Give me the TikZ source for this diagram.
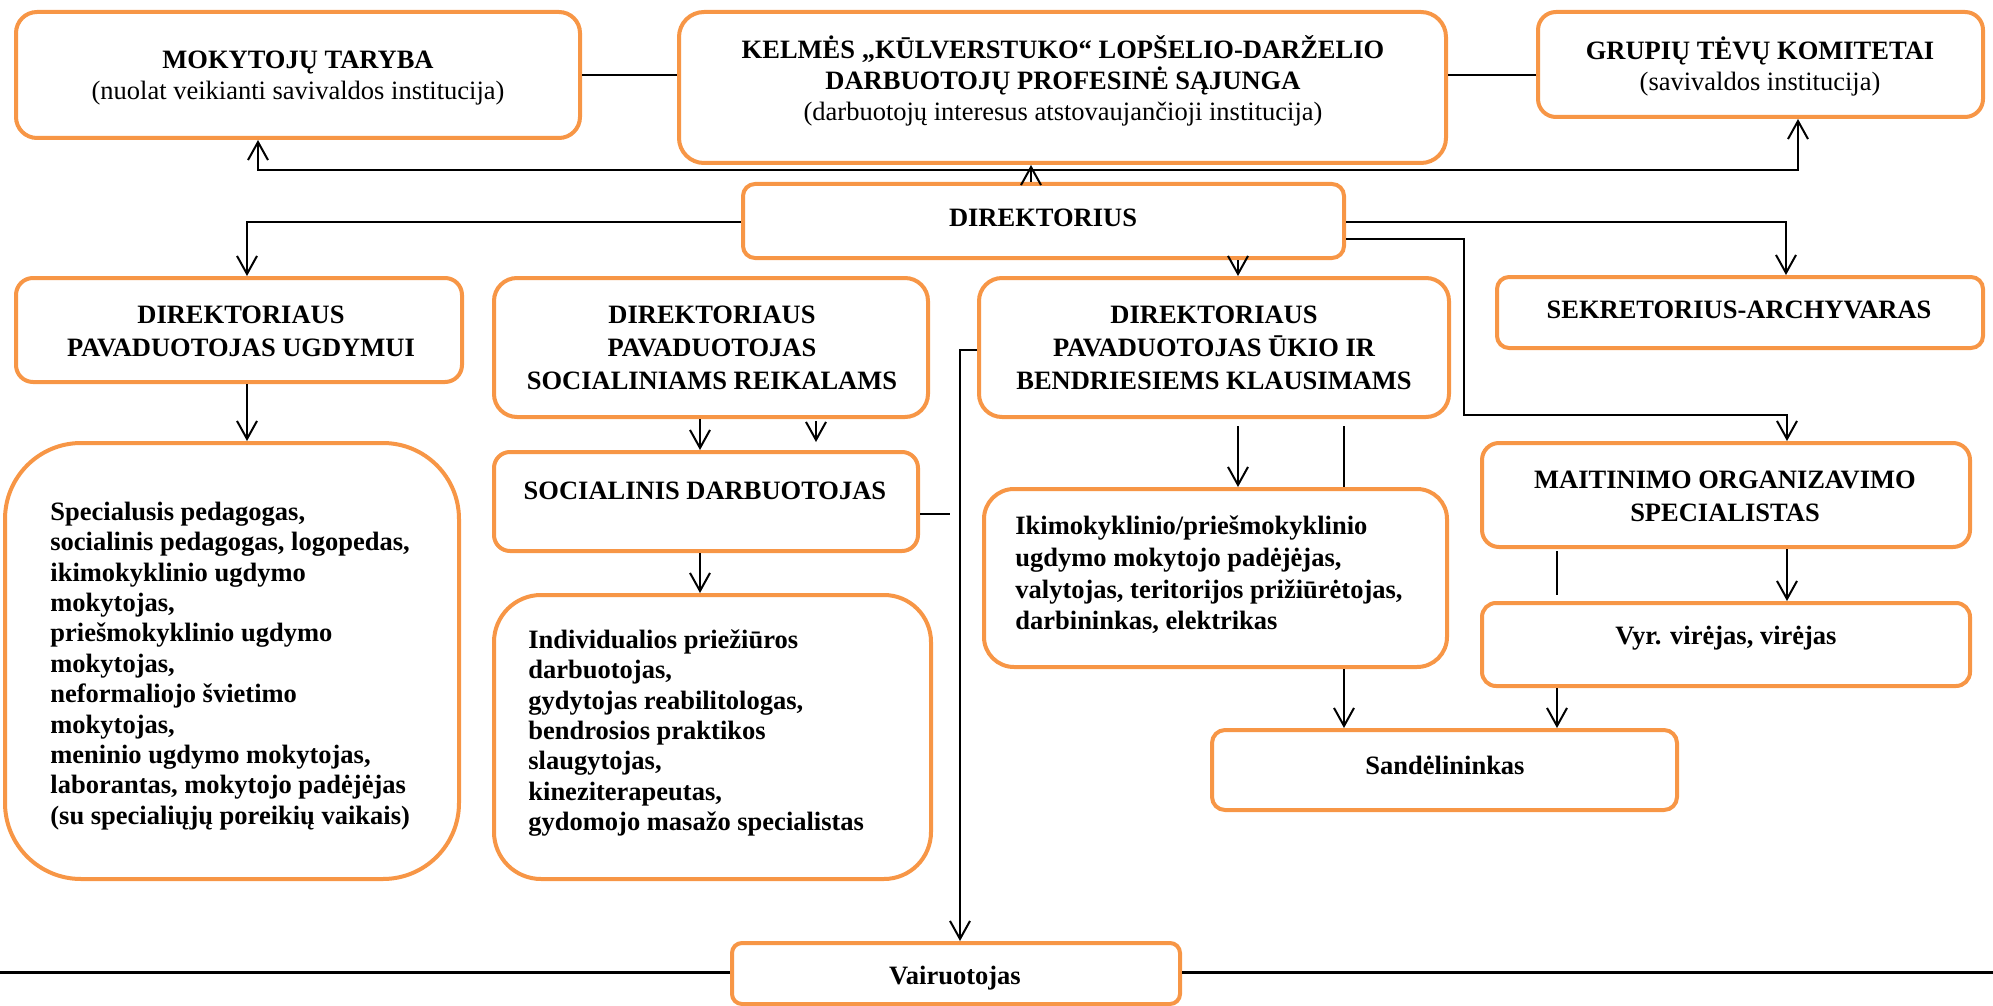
\documentclass[tikz,border=0pt]{standalone}
\usepackage{fontspec}
\setmainfont{Liberation Serif}
\usetikzlibrary{arrows.meta,fit}
\definecolor{org}{RGB}{247,150,70}
\tikzset{
  box/.style={draw=org, line width=2pt, fill=white, inner sep=0pt},
  txt/.style={font=\fontsize{13.25}{15.5}\selectfont\bfseries, align=center, inner sep=0pt},
  txtw/.style={txt, font=\fontsize{13.25}{16.5}\selectfont\bfseries},
  txtl/.style={txt, align=left, font=\fontsize{13.25}{15.2}\selectfont\bfseries},
  con/.style={line width=1pt},
  arr/.style={con, -{Straight Barb[length=9pt,width=10pt]}},
  darr/.style={con, {Straight Barb[length=9pt,width=10pt]}-{Straight Barb[length=9pt,width=10pt]}},
}
\begin{document}
\begin{tikzpicture}[x=0.5pt,y=-0.5pt]
\useasboundingbox (0,0) rectangle (1993,1006);
% boxes
\node[box, rounded corners=10.5pt, fit={(16,12)(580,138)}] (mok) {};
\node[box, rounded corners=12.5pt, fit={(679,12)(1446,163)}] (kel) {};
\node[box, rounded corners=9pt, fit={(1538,12)(1983,117)}] (gru) {};
\node[box, rounded corners=6pt, fit={(743,184)(1344,258)}] (dir) {};
\node[box, rounded corners=8.5pt, fit={(16,278)(462,382)}] (ugd) {};
\node[box, rounded corners=11.5pt, fit={(494,278)(928,417)}] (soc) {};
\node[box, rounded corners=11.5pt, fit={(979,278)(1449,417)}] (uki) {};
\node[box, rounded corners=6pt, fit={(1497,277)(1983,348)}] (sek) {};
\node[box, rounded corners=38pt, fit={(5,443)(459,879)}] (big) {};
\node[box, rounded corners=8pt, fit={(494,452)(918,551)}] (sd) {};
\node[box, rounded corners=23.5pt, fit={(494,595)(931,879)}] (ind) {};
\node[box, rounded corners=15pt, fit={(984,489)(1447,667)}] (iki) {};
\node[box, rounded corners=8.5pt, fit={(1482,443)(1970,547)}] (mai) {};
\node[box, rounded corners=7pt, fit={(1482,603)(1970,686)}] (vyr) {};
\node[box, rounded corners=6.5pt, fit={(1212,730)(1677,810)}] (san) {};
\node[box, rounded corners=5pt, fit={(732,943)(1180,1004)}] (vai) {};
% texts
\node[txt] (mokt) at (298,78) {MOKYTOJŲ TARYBA\\{\mdseries (nuolat veikianti savivaldos institucija)}};
\node[txt] (kelt) at (1063,81) {KELMĖS „KŪLVERSTUKO“ LOPŠELIO-DARŽELIO\\DARBUOTOJŲ PROFESINĖ SĄJUNGA\\{\mdseries (darbuotojų interesus atstovaujančioji institucija)}};
\node[txt] (grut) at (1760,66) {GRUPIŲ TĖVŲ KOMITETAI\\{\mdseries (savivaldos institucija)}};
\node[txt] (dirt) at (1043,218) {DIREKTORIUS};
\node[txtw] (ugdt) at (241,331) {DIREKTORIAUS\\PAVADUOTOJAS UGDYMUI};
\node[txtw] (soct) at (712,348) {DIREKTORIAUS\\PAVADUOTOJAS\\SOCIALINIAMS REIKALAMS};
\node[txtw] (ukit) at (1214,348) {DIREKTORIAUS\\PAVADUOTOJAS ŪKIO IR\\BENDRIESIEMS KLAUSIMAMS};
\node[txt] (sekt) at (1739,310) {SEKRETORIUS-ARCHYVARAS};
\node[txtl, anchor=west] (bigt) at (50,666) {Specialusis pedagogas,\\socialinis pedagogas, logopedas,\\ikimokyklinio ugdymo\\mokytojas,\\priešmokyklinio ugdymo\\mokytojas,\\neformaliojo švietimo\\mokytojas,\\meninio ugdymo mokytojas,\\laborantas, mokytojo padėjėjas\\(su specialiųjų poreikių vaikais)};
\node[txt] (sdt) at (705,491) {SOCIALINIS DARBUOTOJAS};
\node[txtl, anchor=west] (indt) at (528,733) {Individualios priežiūros\\darbuotojas,\\gydytojas reabilitologas,\\bendrosios praktikos\\slaugytojas,\\kineziterapeutas,\\gydomojo masažo specialistas};
\node[txtl, anchor=west, font=\fontsize{13.25}{15.8}\selectfont\bfseries] (ikit) at (1015,575) {Ikimokyklinio/priešmokyklinio\\ugdymo mokytojo padėjėjas,\\valytojas, teritorijos prižiūrėtojas,\\darbininkas, elektrikas};
\node[txtw] (mait) at (1725,496) {MAITINIMO ORGANIZAVIMO\\SPECIALISTAS};
\node[txt] (vyrt) at (1726,638) {Vyr. virėjas, virėjas};
\node[txt] (sant) at (1445,765) {Sandėlininkas};
\node[txt] (vait) at (955,978) {Vairuotojas};
% coordinates
\coordinate (h1) at (258,170);
\coordinate (h2) at (1798,170);
\coordinate (x1) at (1031,0);
\coordinate (x2) at (1238,0);
\coordinate (c1) at (247,222);
\coordinate (c2) at (1786,222);
\coordinate (c3) at (1464,239);
\coordinate (c4) at (1787,415);
\coordinate (x3) at (700,0);
\coordinate (f1) at (816,421);
\coordinate (f2) at (816,442);
\coordinate (s1) at (950,514);
\coordinate (v1) at (960,350);
\coordinate (f3) at (1238,426);
\coordinate (f4) at (1344,426);
\coordinate (m1) at (1557,551);
\coordinate (m2) at (1557,595);
\coordinate (L) at (0,972);
\coordinate (R) at (1993,972);
% connectors
\draw[con] (mok.east) -- (kel.west |- mok.east);
\draw[con] (kel.east |- mok.east) -- (gru.west |- mok.east);
\draw[darr] (mok.south -| h1) -- (h1) -- (h2) -- (gru.south -| h2);
\draw[arr] (dir.north -| x1) -- (kel.south -| x1);
\draw[arr] (dir.west |- c1) -- (c1) -- (ugd.north -| c1);
\draw[arr] (dir.east |- c2) -- (c2) -- (sek.north -| c2);
\draw[arr] (dir.east |- c3) -- (c3) |- (c4) -- (mai.north -| c4);
\draw[arr] (dir.south -| x2) -- (uki.north -| x2);
\draw[arr] (ugd.south -| c1) -- (big.north -| c1);
\draw[arr] (soc.south -| x3) -- (sd.north -| x3);
\draw[arr] (f1) -- (f2);
\draw[con] (sd.east |- s1) -- (s1);
\draw[arr] (uki.west |- v1) -- (v1) -- (vai.north -| v1);
\draw[arr] (sd.south -| x3) -- (ind.north -| x3);
\draw[arr] (f3) -- (iki.north -| f3);
\draw[con] (f4) -- (iki.north -| f4);
\draw[arr] (iki.south -| f4) -- (san.north -| f4);
\draw[con] (m1) -- (m2);
\draw[arr] (mai.south -| c4) -- (vyr.north -| c4);
\draw[arr] (vyr.south -| m1) -- (san.north -| m1);
\draw[con, line width=1.5pt] (L) -- (vai.west |- L);
\draw[con, line width=1.5pt] (vai.east |- L) -- (R);
\end{tikzpicture}
\end{document}
